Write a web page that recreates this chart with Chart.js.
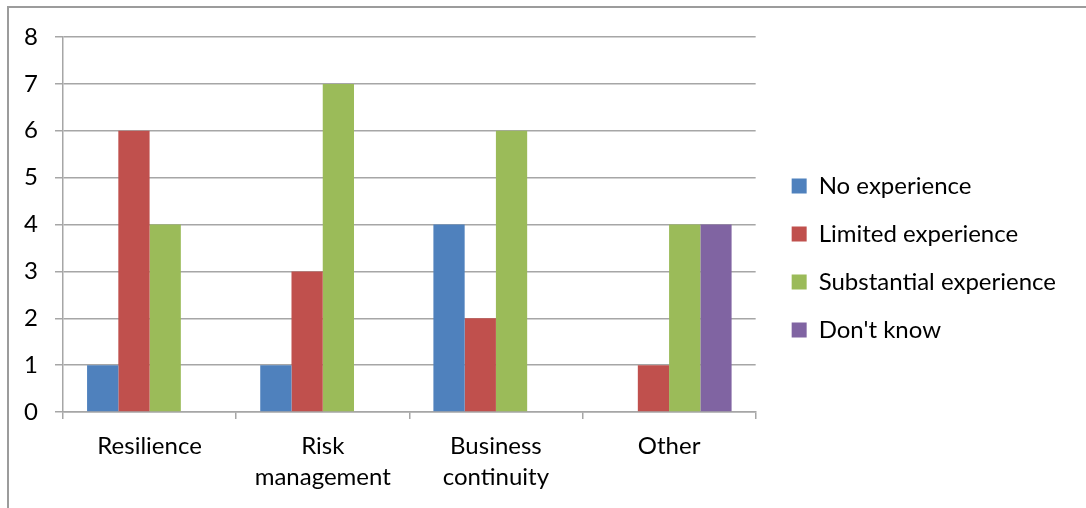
<!DOCTYPE html>
<html>
<head>
<meta charset="utf-8">
<script src="https://cdn.jsdelivr.net/npm/chart.js@4/dist/chart.umd.min.js"></script>
<style>
  html, body { margin: 0; padding: 0; background: #fff; overflow: hidden; }
  #wrap { position: relative; width: 1086px; height: 508px; }
  #frame { position: absolute; left: 7px; top: 6px; width: 1200px; height: 600px;
           border: 2px solid #9c9c9c; box-sizing: border-box; }
  canvas { position: absolute; left: 0; top: 0; }
</style>
</head>
<body>
<div id="wrap">
  <div id="frame"></div>
  <canvas id="chart" width="1086" height="508"></canvas>
</div>
<script>
// Experience levels per discipline (number of respondents)
const categories = [['Resilience'], ['Risk', 'management'], ['Business', 'continuity'], ['Other']];
const seriesNames = ['No experience', 'Limited experience', 'Substantial experience', "Don't know"];
const noExperience = [1, 1, 4, 0];
const limitedExperience = [6, 3, 2, 1];
const substantialExperience = [4, 7, 6, 4];
const dontKnow = [0, 0, 0, 4];
const yTicks = [0, 1, 2, 3, 4, 5, 6, 7, 8];

const colors = ['#4F81BD', '#C0504D', '#9BBB59', '#8064A2'];
const seriesValues = [noExperience, limitedExperience, substantialExperience, dontKnow];

const FONT = 'Lato';
const FONT_SIZE = 24;
const gridColor = '#a6a6a6';

function drawChart() {
  new Chart(document.getElementById('chart'), {
    type: 'bar',
    data: {
      labels: categories,
      datasets: seriesNames.map((name, i) => ({
        label: name,
        data: seriesValues[i],
        backgroundColor: colors[i],
        borderWidth: 0,
        categoryPercentage: 0.722,
        barPercentage: 1.0
      }))
    },
    options: {
      responsive: false,
      animation: false,
      layout: { padding: { top: 8, bottom: 0, left: 0, right: 20 } },
      plugins: {
        tooltip: { enabled: false },
        legend: {
          position: 'right',
          align: 'center',
          maxWidth: 420,
          labels: {
            color: '#000',
            font: { family: FONT, size: FONT_SIZE },
            boxWidth: 15,
            boxHeight: 15,
            padding: 24
          }
        }
      },
      scales: {
        x: {
          grid: { display: true, drawOnChartArea: false, drawTicks: true, tickLength: 7,
                  color: gridColor, lineWidth: 1.5, offset: true },
          border: { display: true, color: gridColor, width: 1.5 },
          ticks: { color: '#000', font: { family: FONT, size: FONT_SIZE, lineHeight: 1.29 },
                   padding: 12, maxRotation: 0, autoSkip: false },
          afterFit(scale) { scale.height = 96; }
        },
        y: {
          min: 0,
          max: yTicks[yTicks.length - 1],
          afterBuildTicks(scale) { scale.ticks = yTicks.map(v => ({ value: v })); },
          grid: { color: gridColor, lineWidth: 1.5, tickLength: 8, drawTicks: true },
          border: { display: true, color: gridColor, width: 1.5 },
          ticks: { color: '#000', font: { family: FONT, size: FONT_SIZE }, padding: 17 },
          afterFit(scale) { scale.width = 63; }
        },
        // empty spacer scales: room above the plot and between plot and legend
        topSpace: {
          position: 'top',
          display: true,
          grid: { display: false },
          border: { display: false },
          ticks: { display: false },
          afterFit(scale) { scale.height = 29; }
        },
        gap: {
          position: 'right',
          display: true,
          grid: { display: false },
          border: { display: false },
          ticks: { display: false },
          afterFit(scale) { scale.width = 12; }
        }
      }
    }
  });
}

document.fonts.load(FONT_SIZE + 'px ' + FONT).then(drawChart, drawChart);
</script>
</body>
</html>
